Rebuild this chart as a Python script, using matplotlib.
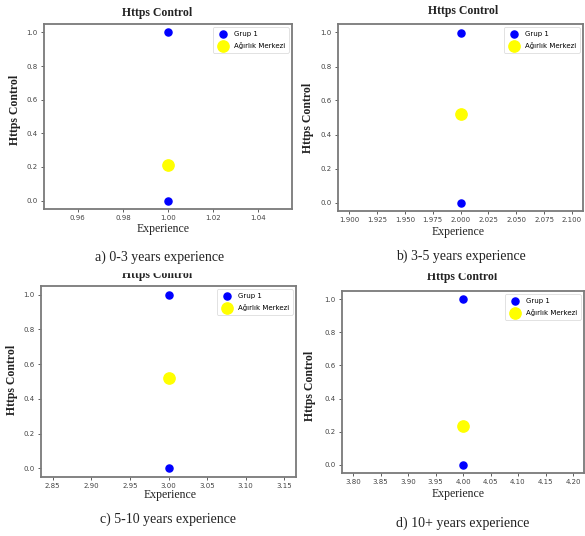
import matplotlib
matplotlib.use("Agg")
import matplotlib.pyplot as plt
from matplotlib.ticker import MultipleLocator, FormatStrFormatter
from matplotlib.patches import Rectangle

# ---- data ----
experience_levels = [1, 2, 3, 4]
group_values = [0, 1]
centroids = [0.214, 0.518, 0.523, 0.233]
captions = ["a) 0-3 years experience", "b) 3-5 years experience",
            "c) 5-10 years experience", "d) 10+ years experience"]
title_text = "Https Control"
xlabel_text = "Experience"
ylabel_text = "Https Control"
legend_labels = ["Grup 1", "Ağırlık Merkezi"]
x_steps = [0.02, 0.025, 0.05, 0.05]
x_formats = ["%.2f", "%.3f", "%.2f", "%.2f"]

W, H = 585, 536
fig = plt.figure(figsize=(W / 100, H / 100), dpi=100)
fig.patch.set_facecolor("white")

# pixel layout: (left, top, right, bottom) of axes
boxes = [(44, 24, 292, 209), (338, 24, 583, 211),
         (41, 286, 296, 477), (342, 291, 584, 473)]
title_pos = [(157, 13), (463, 11), (157, 275), (462, 277)]
ylabel_pos = [(15, 110), (308, 118), (12, 380), (310, 386)]
xlabel_pos = [(163, 229), (458, 232), (170, 495), (458, 494)]
caption_pos = [(160, 257), (461, 256), (168, 519), (463, 523)]

serif = ["Liberation Serif", "DejaVu Serif"]
spine_col = "#7a7a7a"
tick_col = "#444444"


def fx(x):
    return x / W


def fy(y):
    return 1 - y / H


for i, x in enumerate(experience_levels):
    l, t, r, b = boxes[i]
    ax = fig.add_axes([fx(l), fy(b), (r - l) / W, (b - t) / H])
    ax.scatter([x] * len(group_values), group_values, s=26, color="blue",
               label=legend_labels[0], zorder=3)
    ax.scatter([x], [centroids[i]], s=66, color="yellow",
               label=legend_labels[1], zorder=3)
    ax.xaxis.set_major_locator(MultipleLocator(x_steps[i]))
    ax.xaxis.set_major_formatter(FormatStrFormatter(x_formats[i]))
    ax.yaxis.set_major_locator(MultipleLocator(0.2))
    ax.yaxis.set_major_formatter(FormatStrFormatter("%.1f"))
    ax.tick_params(labelsize=5, colors=tick_col, length=2.5, width=0.6, pad=2)
    for s in ax.spines.values():
        s.set_color(spine_col)
        s.set_linewidth(1.3)
    leg = ax.legend(loc="upper right", fontsize=5, frameon=True,
                    borderpad=0.5, handletextpad=0.5, labelspacing=0.75,
                    borderaxespad=0.5)
    leg.get_frame().set_linewidth(0.5)
    leg.get_frame().set_edgecolor("#cccccc")

    fig.text(fx(title_pos[i][0]), fy(title_pos[i][1]), title_text,
             family=serif, weight="bold", fontsize=8.5, color="#222222",
             ha="center", va="center")
    fig.text(fx(ylabel_pos[i][0]), fy(ylabel_pos[i][1]), ylabel_text,
             family=serif, weight="bold", fontsize=8.5, color="#222222",
             ha="center", va="center", rotation=90)
    fig.text(fx(xlabel_pos[i][0]), fy(xlabel_pos[i][1]), xlabel_text,
             family=serif, fontsize=8.5, color="#222222",
             ha="center", va="center")
    fig.text(fx(caption_pos[i][0]), fy(caption_pos[i][1]), captions[i],
             family=serif, fontsize=10, color="#222222",
             ha="center", va="center")

# the lower screenshots are cropped through their titles
fig.add_artist(Rectangle((0, fy(272)), 1, (272 - 265) / H,
                         transform=fig.transFigure, color="white", zorder=10))

fig.savefig("out.png", dpi=100)
